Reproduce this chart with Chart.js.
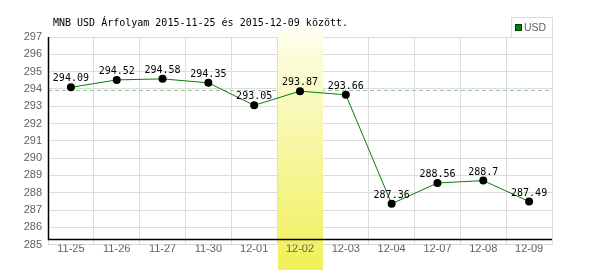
<!DOCTYPE html>
<html><head><meta charset="utf-8">
<script src="https://cdn.jsdelivr.net/npm/chart.js@4"></script>
<style>html,body{margin:0;padding:0;background:#fff}#w{width:600px;height:270px}</style>
</head><body><div id="w"><canvas id="c" width="600" height="270"></canvas></div>
<script>
const categories = ['11-25','11-26','11-27','11-30','12-01','12-02','12-03','12-04','12-07','12-08','12-09'];
const usdValues = [294.09,294.52,294.58,294.35,293.05,293.87,293.66,287.36,288.56,288.7,287.49];
const valueLabels = ['294.09','294.52','294.58','294.35','293.05','293.87','293.66','287.36','288.56','288.7','287.49'];
const yTicks = [285,286,287,288,289,290,291,292,293,294,295,296,297];
const referenceLine = [293.95];
const highlightIndex = [5];
const titleText = 'MNB USD Árfolyam 2015-11-25 és 2015-12-09 között.';
const seriesName = 'USD';

const AXIS_COLOR = '#606060';
const GRID_COLOR = '#dcdcdc';

const decor = {
  id: 'decor',
  beforeDatasetsDraw(chart) {
    const ctx = chart.ctx, ca = chart.chartArea;
    const xs = chart.scales.x, ys = chart.scales.y;
    ctx.save();
    // reference dashed line
    const ry = Math.round(ys.getPixelForValue(referenceLine[0])) + 0.5;
    ctx.strokeStyle = '#99c499';
    ctx.lineWidth = 1;
    ctx.setLineDash([4, 3]);
    ctx.beginPath(); ctx.moveTo(ca.left, ry); ctx.lineTo(ca.right - 2, ry); ctx.stroke();
    ctx.setLineDash([]);
    // highlight band
    const cw = xs.width / categories.length;
    const cx = xs.getPixelForValue(highlightIndex[0]);
    const top = 28, bot = chart.height;
    const g = ctx.createLinearGradient(0, top, 0, bot);
    g.addColorStop(0, '#fffff6');
    g.addColorStop(0.1, '#fcfcdc');
    g.addColorStop(1, '#f0f058');
    ctx.fillStyle = g;
    ctx.fillRect(Math.round(cx - cw / 2) + 1, top, Math.round(cw) - 1, bot - top);
    // black axes
    ctx.strokeStyle = '#000';
    ctx.lineWidth = 1.5;
    const by = Math.round(ca.bottom - 6) + 0.5;
    ctx.beginPath();
    ctx.moveTo(ca.left + 0.5, ca.top);
    ctx.lineTo(ca.left + 0.5, by);
    ctx.lineTo(ca.right, by);
    ctx.stroke();
    ctx.restore();
  },
  afterDatasetsDraw(chart) {
    const ctx = chart.ctx;
    const meta = chart.getDatasetMeta(0);
    ctx.save();
    ctx.font = '10px "DejaVu Sans Mono", monospace';
    ctx.fillStyle = '#000';
    ctx.textAlign = 'center';
    ctx.textBaseline = 'alphabetic';
    meta.data.forEach((p, i) => {
      ctx.fillText(valueLabels[i], p.x, p.y - 6);
    });
    ctx.restore();
  },
  afterDraw(chart) {
    const ctx = chart.ctx;
    ctx.save();
    ctx.font = '10px "DejaVu Sans Mono", monospace';
    ctx.fillStyle = '#000';
    ctx.textAlign = 'left';
    ctx.textBaseline = 'alphabetic';
    ctx.fillText(titleText, 53, 26);
    // legend
    ctx.fillStyle = '#fff';
    ctx.fillRect(511, 17, 41, 20);
    ctx.strokeStyle = '#dcdcdc';
    ctx.lineWidth = 1;
    ctx.strokeRect(511.5, 17.5, 41, 20);
    ctx.fillStyle = '#008000';
    ctx.fillRect(516, 25, 5, 5);
    ctx.strokeStyle = '#004000';
    ctx.strokeRect(515.5, 24.5, 6, 6);
    ctx.fillStyle = AXIS_COLOR;
    ctx.font = '10.5px "Liberation Sans Narrow", "Liberation Sans", Arial, sans-serif';
    ctx.textBaseline = 'middle';
    ctx.fillText(seriesName, 524, 28);
    ctx.restore();
  }
};

new Chart(document.getElementById('c'), {
  type: 'line',
  data: {
    labels: categories,
    datasets: [{
      label: seriesName,
      data: usdValues,
      borderColor: '#008000',
      borderWidth: 1,
      pointRadius: 4,
      pointBackgroundColor: '#000',
      pointBorderColor: '#000',
      pointBorderWidth: 0,
      tension: 0,
      fill: false
    }]
  },
  options: {
    responsive: false,
    animation: false,
    devicePixelRatio: 1,
    layout: { padding: { top: 37, right: 48, left: 0, bottom: 0 } },
    plugins: { legend: { display: false }, tooltip: { enabled: false }, title: { display: false } },
    events: [],
    scales: {
      x: {
        type: 'category',
        offset: true,
        afterFit(s) { s.height = 25.4; },
        grid: { color: GRID_COLOR, offset: true, drawTicks: false, lineWidth: 1 },
        border: { display: false },
        ticks: {
          color: AXIS_COLOR, padding: -2, autoSkip: false, maxRotation: 0, z: 1,
          font: { family: '"Liberation Sans", Arial, sans-serif', size: 11 }
        }
      },
      y: {
        min: yTicks[0],
        max: yTicks[yTicks.length - 1],
        afterFit(s) { s.width = 48; },
        afterBuildTicks(s) { s.ticks = yTicks.map(v => ({ value: v })); },
        grid: { color: GRID_COLOR, drawTicks: false, lineWidth: 1 },
        border: { display: false },
        ticks: {
          color: AXIS_COLOR, padding: 6, stepSize: 1,
          font: { family: '"Liberation Sans", Arial, sans-serif', size: 11 },
          callback: v => String(v)
        }
      }
    }
  },
  plugins: [decor]
});
</script>
</body></html>
